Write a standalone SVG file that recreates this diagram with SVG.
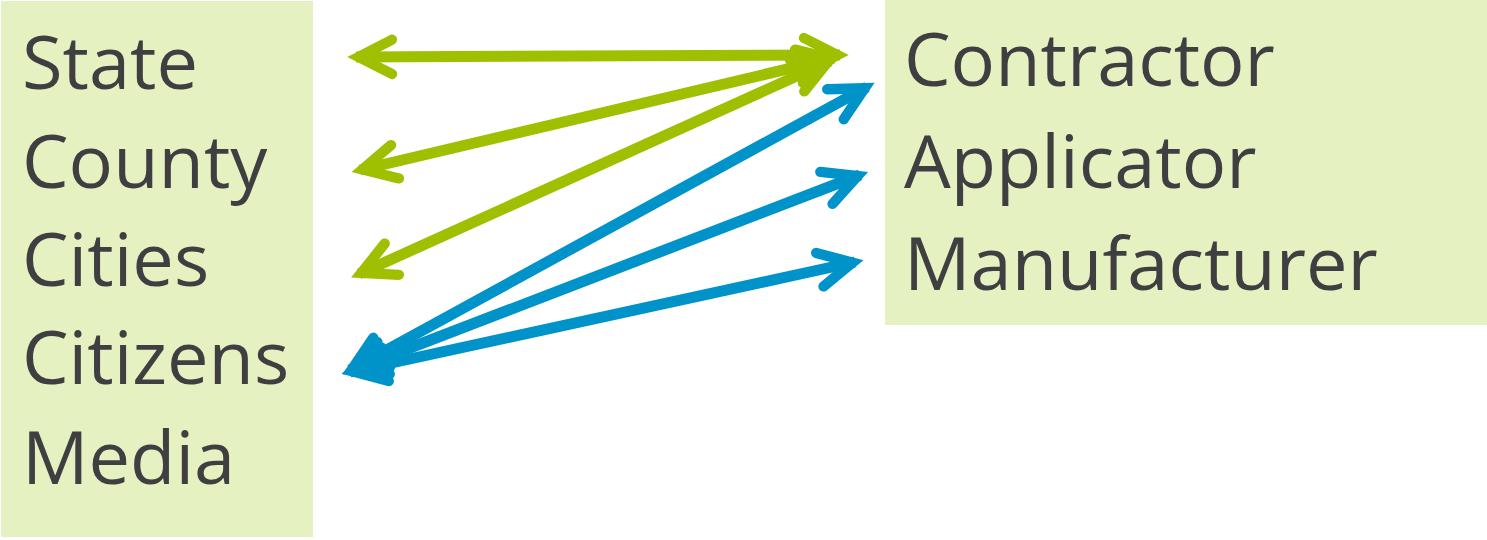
<svg xmlns="http://www.w3.org/2000/svg" width="1487" height="540" viewBox="0 0 1487 540">
<style>
.box{fill:#e6f1c1}
.lbl{font-family:"Open Sans","Liberation Sans",sans-serif;font-size:74px;fill:#3f3f42}
.g{stroke:#9fc000;stroke-width:11;fill:none;stroke-linecap:butt}
.b{stroke:#0093c9;stroke-width:11;fill:none;stroke-linecap:butt}
</style>
<defs>
<marker id="hg" markerUnits="userSpaceOnUse" orient="auto-start-reverse" refX="0" refY="0" markerWidth="60" markerHeight="60" viewBox="-60 -30 70 60" overflow="visible">
<path d="M-42,-20 L-3,0 L-42,20" fill="none" stroke="#9fc000" stroke-width="12" stroke-linecap="round" stroke-linejoin="miter" stroke-miterlimit="10"/>
</marker>
<marker id="hb" markerUnits="userSpaceOnUse" orient="auto-start-reverse" refX="0" refY="0" markerWidth="60" markerHeight="60" viewBox="-60 -30 70 60" overflow="visible">
<path d="M-42,-20 L-3,0 L-42,20" fill="none" stroke="#0093c9" stroke-width="12" stroke-linecap="round" stroke-linejoin="miter" stroke-miterlimit="10"/>
</marker>
</defs>
<g id="left-node">
<rect class="box" x="1" y="1" width="312" height="536"/>
<text class="lbl" x="22" y="89">State</text>
<text class="lbl" x="22" y="188">County</text>
<text class="lbl" x="22" y="286">Cities</text>
<text class="lbl" x="22" y="384">Citizens</text>
<text class="lbl" x="22" y="484">Media</text>
</g>
<g id="right-node">
<rect class="box" x="885" y="0" width="602" height="325"/>
<text class="lbl" x="904" y="86">Contractor</text>
<text class="lbl" x="904" y="188">Applicator</text>
<text class="lbl" x="904" y="290">Manufacturer</text>
</g>
<g id="connectors">
<line class="g" x1="356" y1="57" x2="840" y2="55" marker-start="url(#hg)" marker-end="url(#hg)"/>
<line class="g" x1="360" y1="170" x2="834" y2="58" marker-start="url(#hg)" marker-end="url(#hg)"/>
<line class="g" x1="359" y1="274" x2="830" y2="61" marker-start="url(#hg)" marker-end="url(#hg)"/>
<line class="b" x1="350" y1="370" x2="867" y2="87" marker-start="url(#hb)" marker-end="url(#hb)"/>
<line class="b" x1="350" y1="371" x2="860" y2="175" marker-start="url(#hb)" marker-end="url(#hb)"/>
<line class="b" x1="350" y1="372" x2="855" y2="262" marker-start="url(#hb)" marker-end="url(#hb)"/>
</g>
</svg>
